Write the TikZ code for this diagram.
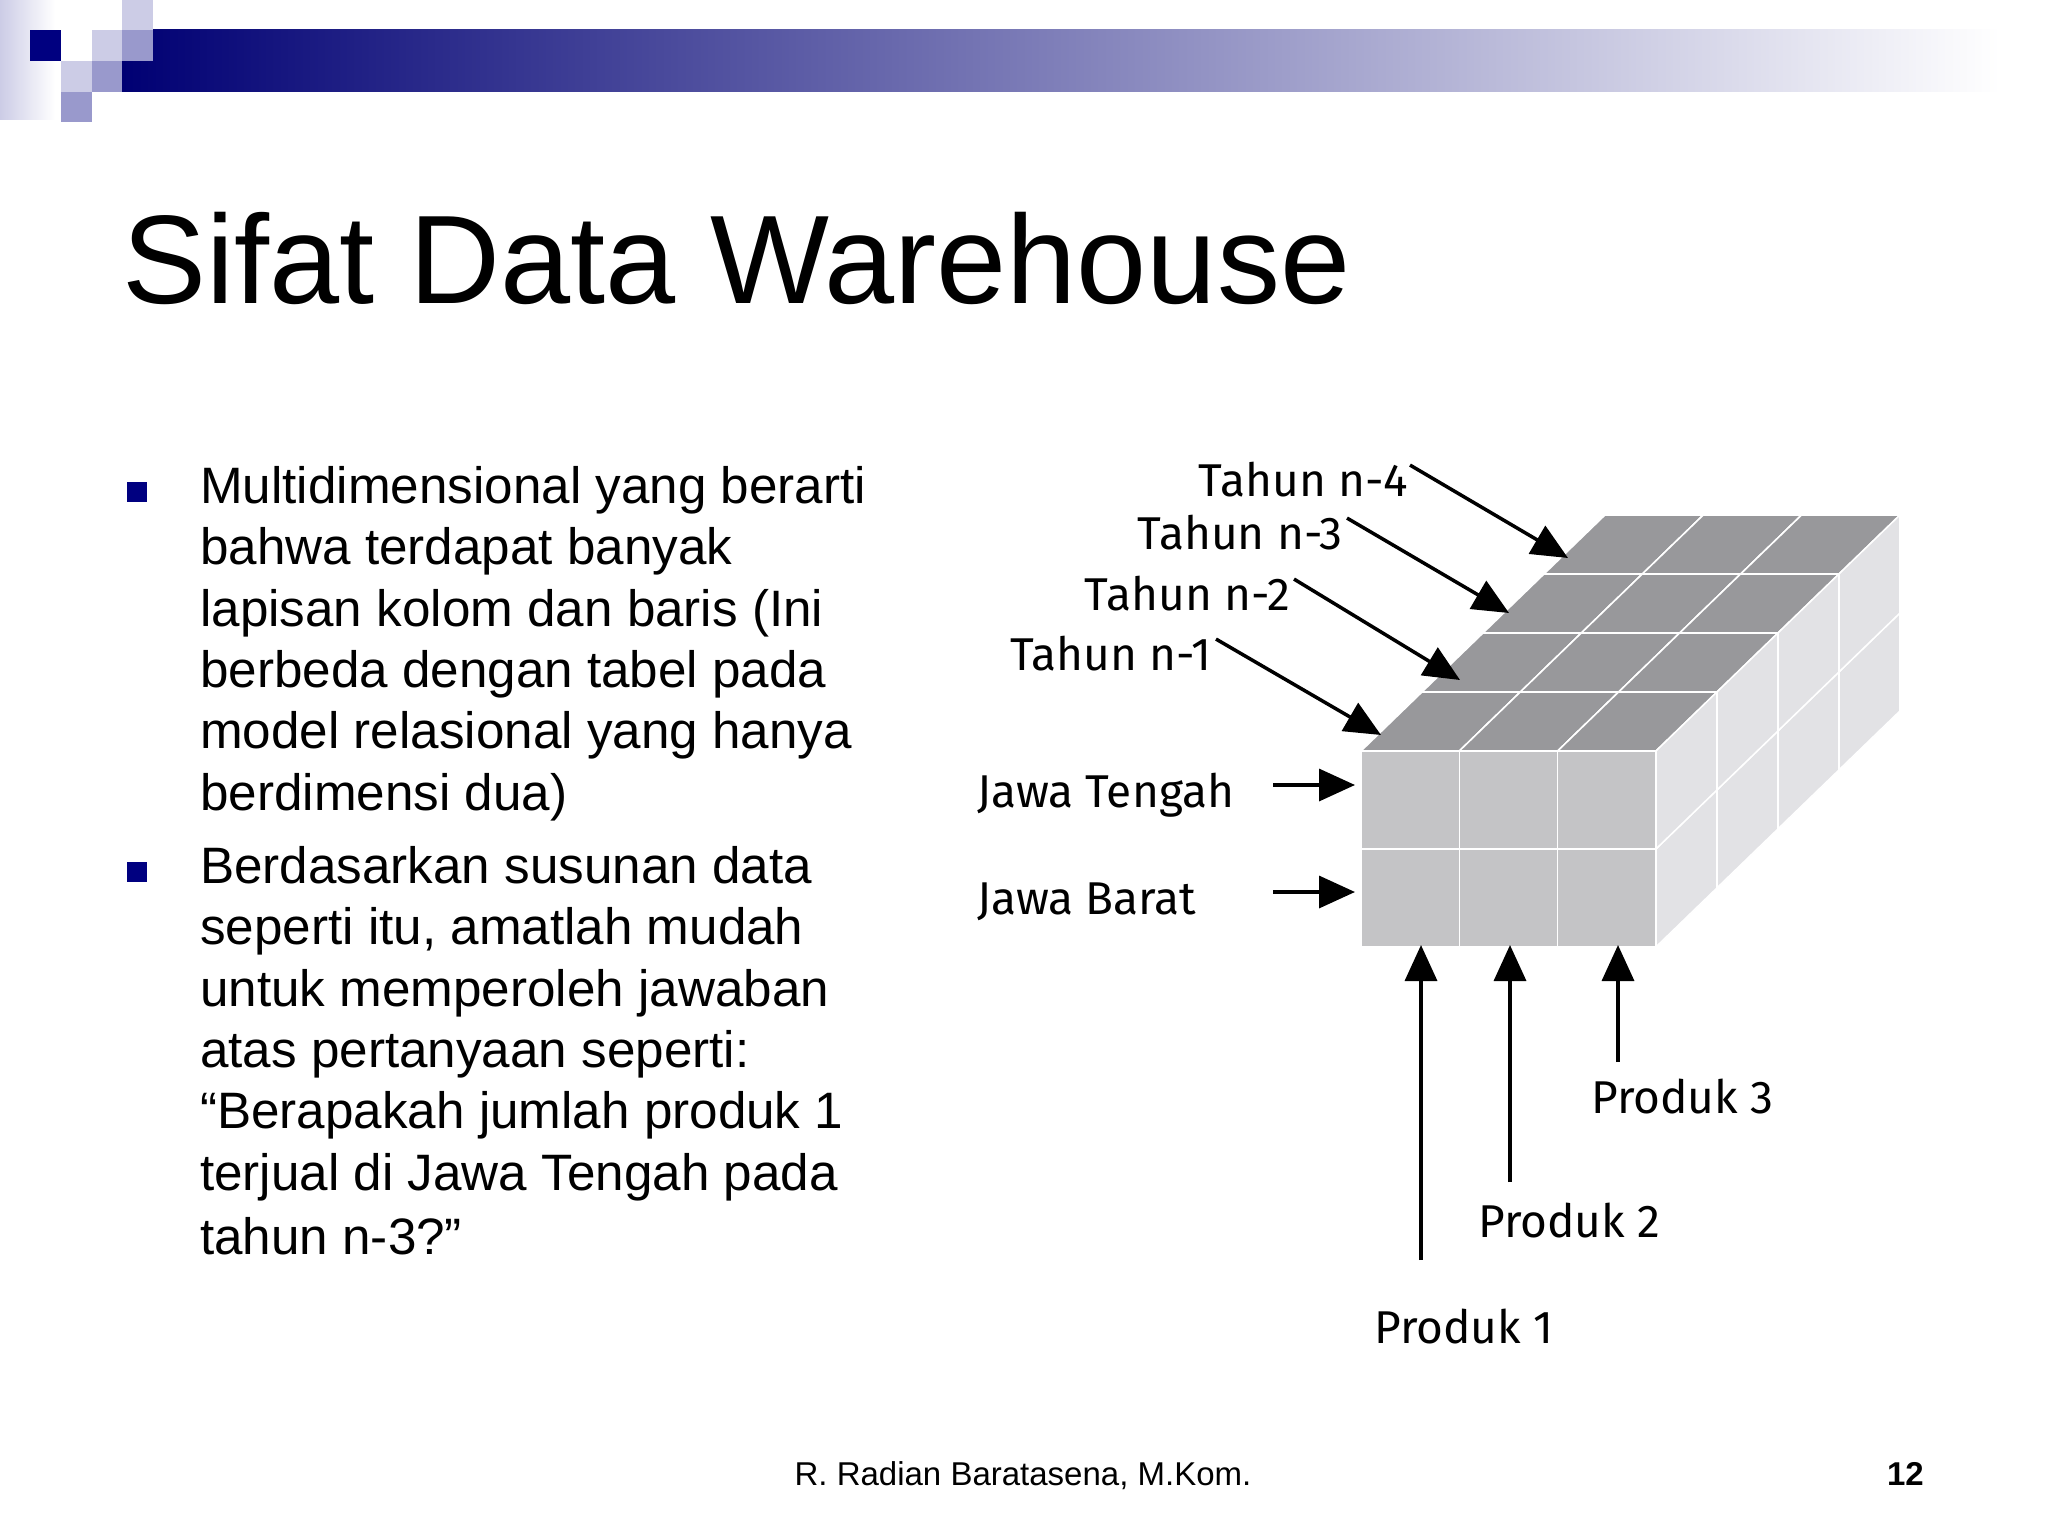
\documentclass[tikz,border=0pt]{standalone}
\usepackage{fontspec}
\setmainfont{Liberation Sans}
\newfontfamily\lblfont{Fira Sans}
\usetikzlibrary{arrows.meta}
\definecolor{navy}{RGB}{0,0,128}
\definecolor{lav}{RGB}{204,204,230}
\definecolor{midl}{RGB}{153,153,204}
\definecolor{ctop}{RGB}{152,152,155}
\definecolor{cfront}{RGB}{196,196,198}
\definecolor{cright}{RGB}{226,226,229}
\tikzset{
 lbl/.style={font=\lblfont\fontsize{46}{50}\selectfont, inner sep=0pt},
 body/.style={font=\fontsize{51.2}{60}\selectfont, anchor=base west, inner sep=0pt},
 arr/.style={line width=3.5pt, -{Triangle[length=36pt,width=32pt]}},
 face/.style={draw=white, line width=1.5pt, line join=round}
}
\begin{document}
\begin{tikzpicture}[x=1pt,y=-1pt]
\useasboundingbox (0,0) rectangle (2048,1536);
\fill[white] (0,0) rectangle (2048,1536);
% header
\shade[left color=lav, right color=white] (0,0) rectangle (55,120);
\shade[left color=navy!90!black, right color=white] (122,30) rectangle (2000,92);
\fill[navy] (30,30) rectangle (61,61);
\fill[lav] (61,61) rectangle (92,92);
\fill[midl] (92,61) rectangle (122,92);
\fill[midl] (61,92) rectangle (92,122);
\fill[lav] (92,30) rectangle (122,61);
\fill[lav] (122,0) rectangle (153,30);
\fill[midl] (122,30) rectangle (153,61);
% title
\node[anchor=base west, inner sep=0pt, font=\fontsize{126}{140}\selectfont] (title) at (122,303) {Sifat Data Warehouse};
% bullets
\fill[navy] (127,482) rectangle (147,502);
\fill[navy] (127,862) rectangle (147,882);
\node[body] (b1) at (200,503) {Multidimensional yang berarti};
\node[body] (b2) at (200,564) {bahwa terdapat banyak};
\node[body] (b3) at (200,626) {lapisan kolom dan baris (Ini};
\node[body] (b4) at (200,687) {berbeda dengan tabel pada};
\node[body] (b5) at (200,748) {model relasional yang hanya};
\node[body] (b6) at (200,810) {berdimensi dua)};
\node[body] (c1) at (200,883) {Berdasarkan susunan data};
\node[body] (c2) at (200,944) {seperti itu, amatlah mudah};
\node[body] (c3) at (200,1006) {untuk memperoleh jawaban};
\node[body] (c4) at (200,1067) {atas pertanyaan seperti:};
\node[body] (c5) at (200,1128) {“Berapakah jumlah produk 1};
\node[body] (c6) at (200,1190) {terjual di Jawa Tengah pada};
\node[body] (c7) at (200,1254) {tahun n-3?”};
% cube
\def\cw{98.3}\def\ch{98}\def\dx{61}\def\dy{-59}
\foreach \k in {3,2,1,0}{
 \foreach \j in {0,1}{
  \foreach \i in {0,1,2}{
   \pgfmathsetmacro{\xa}{1361+\i*\cw+\k*\dx}
   \pgfmathsetmacro{\ya}{947-\j*\ch+\k*\dy}
   \pgfmathsetmacro{\xb}{\xa+\cw}
   \pgfmathsetmacro{\yb}{\ya-\ch}
   \fill[face, fill=ctop] (\xa,\yb) -- (\xb,\yb) -- (\xb+\dx,\yb+\dy) -- (\xa+\dx,\yb+\dy) -- cycle;
   \fill[face, fill=cright] (\xb,\ya) -- (\xb,\yb) -- (\xb+\dx,\yb+\dy) -- (\xb+\dx,\ya+\dy) -- cycle;
   \fill[face, fill=cfront] (\xa,\ya) rectangle (\xb,\yb);
  }
 }
}
\coordinate (t4) at (1568,558);
\coordinate (t3) at (1509,613);
\coordinate (t2) at (1460,680);
\coordinate (t1) at (1381,735);
\coordinate (jt) at (1355,785);
\coordinate (jb) at (1355,892);
\coordinate (p1) at (1421,945);
\coordinate (p2) at (1510,945);
\coordinate (p3) at (1618,945);
% labels
\node[lbl, anchor=base east] (n4) at (1408,496) {Tahun n-4};
\node[lbl, anchor=base east] (n3) at (1343,549) {Tahun n-3};
\node[lbl, anchor=base east] (n2) at (1290,610) {Tahun n-2};
\node[lbl, anchor=base east] (n1) at (1212,670) {Tahun n-1};
\node[lbl, anchor=base west] (jtl) at (977,807) {Jawa Tengah};
\node[lbl, anchor=base west] (jbl) at (977,914) {Jawa Barat};
\node[lbl, anchor=base west] (pl3) at (1591,1113) {Produk 3};
\node[lbl, anchor=base west] (pl2) at (1478,1237) {Produk 2};
\node[lbl, anchor=base west] (pl1) at (1374,1343) {Produk 1};
\draw[arr] (n4.east) ++(2,-14) -- (t4);
\draw[arr] (n3.east) ++(4,-14) -- (t3);
\draw[arr] (n2.east) ++(4,-14) -- (t2);
\draw[arr] (n1.east) ++(4,-14) -- (t1);
\draw[arr] (1273,785) -- (jt);
\draw[arr] (1273,892) -- (jb);
\draw[arr] (1421,1260) -- (p1);
\draw[arr] (1510,1182) -- (p2);
\draw[arr] (1618,1062) -- (p3);
% footer
\node[anchor=base, inner sep=0pt, font=\fontsize{33}{36}\selectfont] (foot) at (1023,1485) {R. Radian Baratasena, M.Kom.};
\node[anchor=base east, inner sep=0pt, font=\bfseries\fontsize{33}{36}\selectfont] (pg) at (1924,1485) {12};
\end{tikzpicture}
\end{document}
